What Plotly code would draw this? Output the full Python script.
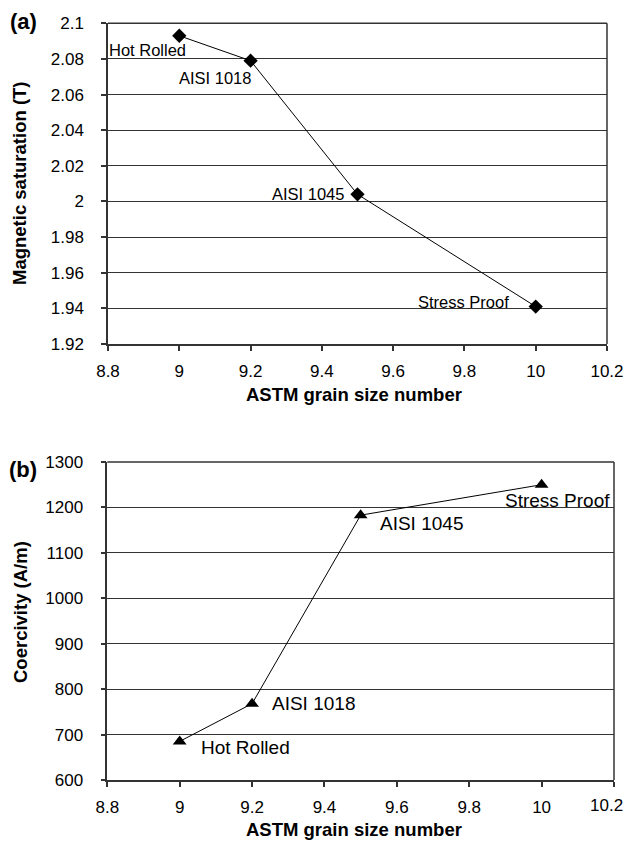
import plotly.graph_objects as go

# ---- data ----
steels = ["Hot Rolled", "AISI 1018", "AISI 1045", "Stress Proof"]
grain_size = [9.0, 9.2, 9.5, 10.0]
saturation = [2.093, 2.079, 2.004, 1.941]
coercivity = [685, 768, 1183, 1250]

x_ticks = [8.8, 9.0, 9.2, 9.4, 9.6, 9.8, 10.0, 10.2]
x_ticktext = ["8.8", "9", "9.2", "9.4", "9.6", "9.8", "10", "10.2"]
sat_ticks = [1.92, 1.94, 1.96, 1.98, 2.0, 2.02, 2.04, 2.06, 2.08, 2.1]
sat_ticktext = ["1.92", "1.94", "1.96", "1.98", "2", "2.02", "2.04", "2.06", "2.08", "2.1"]
coer_ticks = [600, 700, 800, 900, 1000, 1100, 1200, 1300]

W, H = 625, 842
FONT = "Liberation Sans, Arial, sans-serif"
TICK_SIZE = 17

fig = go.Figure()

fig.add_trace(go.Scatter(
    x=grain_size, y=saturation, mode="lines+markers",
    line=dict(color="black", width=1),
    marker=dict(symbol="diamond", size=11, color="black"),
    xaxis="x", yaxis="y", showlegend=False, cliponaxis=False))

fig.add_trace(go.Scatter(
    x=grain_size, y=coercivity, mode="lines+markers",
    line=dict(color="black", width=1),
    marker=dict(symbol="triangle-up", size=12, color="black"),
    xaxis="x2", yaxis="y2", showlegend=False, cliponaxis=False))

def px_x(p):
    return p / W

def px_y(p):
    return 1 - p / H

axis_common = dict(
    showline=True, linecolor="#333", linewidth=1.5,
    ticks="outside", ticklen=5, tickcolor="#333", tickwidth=1.5,
    tickfont=dict(family=FONT, size=TICK_SIZE, color="black"),
    zeroline=False, mirror=False, automargin=False,
    ticklabeloverflow="allow",
)

# bottom x axis: last label drawn separately so it stays inside the page
x2_ticktext = x_ticktext[:-1] + [""]

fig.update_layout(
    width=W, height=H,
    margin=dict(l=0, r=0, t=0, b=0),
    paper_bgcolor="white", plot_bgcolor="white",
    font=dict(family=FONT, color="black"),
    xaxis=dict(domain=[px_x(108), px_x(607)], anchor="y",
               range=[8.8, 10.2], tickvals=x_ticks, ticktext=x_ticktext,
               showgrid=False, ticklabelstandoff=6, **axis_common),
    yaxis=dict(domain=[px_y(344), px_y(23.3)], anchor="x",
               range=[1.92, 2.1], tickvals=sat_ticks, ticktext=sat_ticktext,
               showgrid=True, gridcolor="#333", gridwidth=1,
               ticklabelstandoff=14, **axis_common),
    xaxis2=dict(domain=[px_x(107.3), px_x(614)], anchor="y2",
                range=[8.8, 10.2], tickvals=x_ticks, ticktext=x2_ticktext,
                showgrid=False, ticklabelstandoff=6, **axis_common),
    yaxis2=dict(domain=[px_y(780), px_y(462)], anchor="x2",
                range=[600, 1300], tickvals=coer_ticks,
                showgrid=True, gridcolor="#333", gridwidth=1,
                ticklabelstandoff=14, **axis_common),
)

fig.add_annotation(x=x_ticks[-1], y=coer_ticks[0], xref="x2", yref="y2",
                   text=x_ticktext[-1], showarrow=False,
                   xanchor="right", yanchor="top", xshift=11, yshift=-14,
                   font=dict(family=FONT, size=TICK_SIZE, color="black"))

# right/top frame lines of plot areas
for (x0, x1, y0, y1) in [(108, 607, 23.3, 344), (107.3, 614, 462, 780)]:
    fig.add_shape(type="line", xref="paper", yref="paper",
                  x0=px_x(x1), x1=px_x(x1), y0=px_y(y0), y1=px_y(y1),
                  line=dict(color="#333", width=1.5))
    fig.add_shape(type="line", xref="paper", yref="paper",
                  x0=px_x(x0), x1=px_x(x1), y0=px_y(y0), y1=px_y(y0),
                  line=dict(color="#333", width=1.5))

# point labels
top_offsets = [("right", 9, -14), ("right", 2, -17), ("right", -12, 0), ("right", -25, 5)]
for name, xv, yv, (anc, dx, dy) in zip(steels, grain_size, saturation, top_offsets):
    fig.add_annotation(x=xv, y=yv, xref="x", yref="y", text=name, showarrow=False,
                       xanchor=anc, yanchor="middle", xshift=dx, yshift=dy,
                       font=dict(family=FONT, size=16.5, color="black"))

bot_offsets = [("left", 19, -6), ("left", 18, 0), ("left", 17, -8), ("left", -39, -16)]
for name, xv, yv, (anc, dx, dy) in zip(steels, grain_size, coercivity, bot_offsets):
    fig.add_annotation(x=xv, y=yv, xref="x2", yref="y2", text=name, showarrow=False,
                       xanchor=anc, yanchor="middle", xshift=dx, yshift=dy,
                       font=dict(family=FONT, size=19, color="black"))

# axis titles and panel labels
title_font = dict(family=FONT, size=18.5, color="black")
texts = [
    ("<b>ASTM grain size number</b>", 354, 394, 0),
    ("<b>ASTM grain size number</b>", 354, 829, 0),
    ("<b>Magnetic saturation (T)</b>", 20, 183, -90),
    ("<b>Coercivity (A/m)</b>", 20, 612, -90),
]
for t, xp, yp, ang in texts:
    fig.add_annotation(x=px_x(xp), y=px_y(yp), xref="paper", yref="paper",
                       text=t, showarrow=False, textangle=ang,
                       xanchor="center", yanchor="middle", font=title_font)

for t, xp, yp in [("<b>(a)</b>", 23, 22), ("<b>(b)</b>", 23, 469)]:
    fig.add_annotation(x=px_x(xp), y=px_y(yp), xref="paper", yref="paper",
                       text=t, showarrow=False, xanchor="center", yanchor="middle",
                       font=dict(family=FONT, size=22, color="black"))

fig.write_html("out.html")
